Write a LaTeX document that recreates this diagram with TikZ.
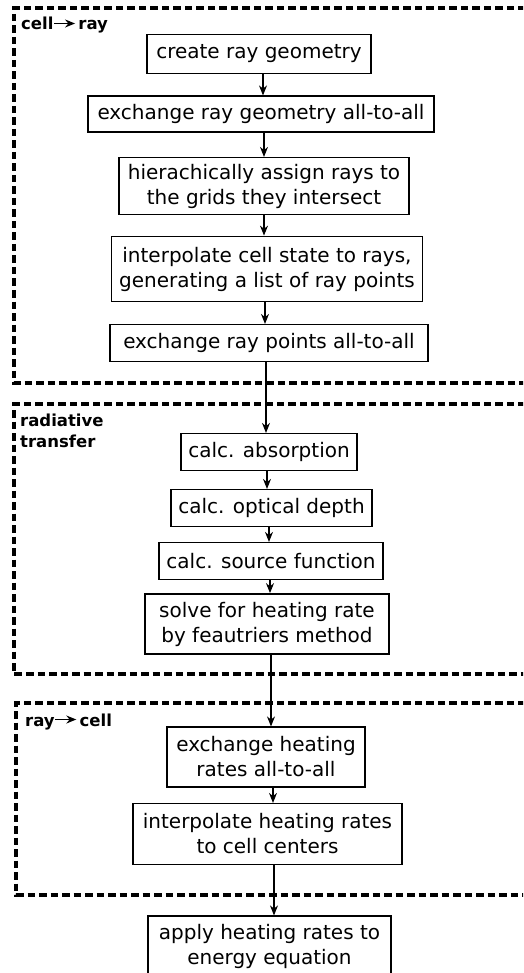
\documentclass[tikz,border=0pt]{standalone}
\usepackage{fontspec}
\setmainfont{DejaVu Sans}
\usetikzlibrary{arrows.meta}
\tikzset{
  stepbox/.style={draw=black, line width=1.2pt, inner sep=0pt, align=center,
    font=\fontsize{20}{25}\selectfont},
  thickbox/.style={stepbox, line width=1.8pt},
  group/.style={draw=black, line width=3.5pt, dash pattern=on 7.5pt off 4pt},
  grouplabel/.style={font=\fontsize{16.5}{21}\selectfont\bfseries, inner sep=0pt, align=left},
  arr/.style={line width=1.1pt, -{Stealth[length=10pt,width=8pt]}},
}
\newcommand{\labarrow}{\tikz[baseline={(0,-6.5pt)}]\draw[line width=1.2pt,-{Stealth[length=10pt,width=8pt]}] (0,0)--(21pt,0);}
\begin{document}
\begin{tikzpicture}[x=1pt,y=-1pt]
\useasboundingbox (0,0) rectangle (523,973);
\clip (0,0) rectangle (523,973);
% group frames
\draw[group] (560,8) -- (14,8) -- (14,383) -- (560,383);
\draw[group] (560,404) -- (14,404) -- (14,674) -- (560,674);
\draw[group] (560,703) -- (16,703) -- (16,895) -- (560,895);
\node[grouplabel, anchor=base west] (l1) at (21,30) {cell\labarrow\,ray};
\node[grouplabel, anchor=north west] (l2) at (20,414) {radiative\\transfer};
\node[grouplabel, anchor=base west] (l3) at (25,726) {ray\labarrow\,cell};
% steps
\node[stepbox, minimum width=224, minimum height=39] (n1) at (259,54) {create ray geometry};
\node[stepbox, minimum width=346, minimum height=36] (n2) at (261,114) {exchange ray geometry all-to-all};
\node[stepbox, minimum width=290, minimum height=57] (n3) at (264,186) {hierachically assign rays to\\the grids they intersect};
\node[thickbox, minimum width=311, minimum height=65] (n4) at (267,269) {interpolate cell state to rays,\\generating a list of ray points};
\node[stepbox, minimum width=318, minimum height=37] (n5) at (269,343) {exchange ray points all-to-all};
\node[stepbox, minimum width=176, minimum height=37] (n6) at (269,452) {calc. absorption};
\node[stepbox, minimum width=201, minimum height=37] (n7) at (271.5,508) {calc. optical depth};
\node[stepbox, minimum width=224, minimum height=37] (n8) at (271,561) {calc. source function};
\node[thickbox, minimum width=244, minimum height=60] (n9) at (267,624) {solve for heating rate\\by feautriers method};
\node[stepbox, minimum width=198, minimum height=60] (n10) at (266,757) {exchange heating\\rates all-to-all};
\node[stepbox, minimum width=269, minimum height=61] (n11) at (267.5,834) {interpolate heating rates\\to cell centers};
\node[stepbox, minimum width=243, minimum height=60] (n12) at (269.5,946) {apply heating rates to\\energy equation};
% connectors
\draw[arr] ([xshift=4pt]n1.south) -- ([xshift=2pt]n2.north);
\draw[arr] ([xshift=3pt]n2.south) -- ([xshift=0pt]n3.north);
\draw[arr] ([xshift=0pt]n3.south) -- ([xshift=-3pt]n4.north);
\draw[arr] ([xshift=-2pt]n4.south) -- ([xshift=-4pt]n5.north);
\draw[arr] ([xshift=-3pt]n5.south) -- ([xshift=-3pt]n6.north);
\draw[arr] ([xshift=-2pt]n6.south) -- ([xshift=-4.5pt]n7.north);
\draw[arr] ([xshift=-2.5pt]n7.south) -- ([xshift=-2pt]n8.north);
\draw[arr] ([xshift=-1pt]n8.south) -- ([xshift=3pt]n9.north);
\draw[arr] ([xshift=4pt]n9.south) -- ([xshift=5pt]n10.north);
\draw[arr] ([xshift=7pt]n10.south) -- ([xshift=5.5pt]n11.north);
\draw[arr] ([xshift=6.5pt]n11.south) -- ([xshift=4.5pt]n12.north);
\end{tikzpicture}
\end{document}
